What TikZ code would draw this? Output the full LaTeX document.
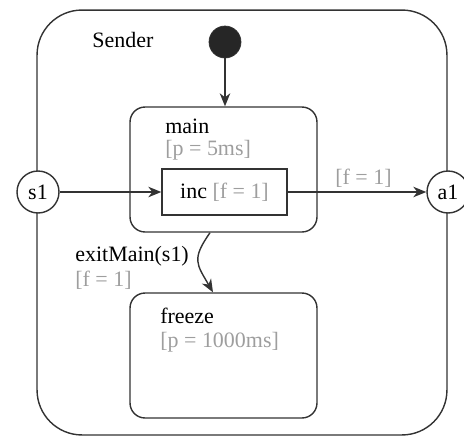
\documentclass[tikz,border=0pt]{standalone}
\usepackage{fontspec}
\setmainfont{Liberation Serif}
\usepackage{tikz}
\usetikzlibrary{arrows.meta}
\definecolor{guard}{gray}{0.62}
\definecolor{edge}{gray}{0.2}
\tikzstyle{state}=[draw=edge,line width=0.8pt,rounded corners=0.3cm,minimum width=3.74cm,minimum height=2.5cm]
\tikzstyle{port}=[draw=edge,line width=0.8pt,fill=white,circle,minimum size=0.84cm,inner sep=0pt,font=\fontsize{12.5}{14}\selectfont]
\tikzstyle{lbl}=[anchor=west,inner sep=0pt,font=\fontsize{12.5}{14}\selectfont]
\tikzstyle{trans}=[draw=edge,line width=0.8pt,-{Stealth[length=2.6mm,width=2.1mm,inset=0.8mm]}]

\begin{document}
\begin{tikzpicture}[x=0.02cm,y=-0.02cm]
        \useasboundingbox (0,0) rectangle (464,437);
        % outer state
        \node[draw=edge,line width=0.8pt,rounded corners=0.9cm,minimum width=8.2cm,minimum height=8.5cm] (sender) at (242,222.5) {};
        \node[lbl] (sendername) at (92,40) {Sender};
        \node[draw=edge,fill=black!85,circle,minimum size=0.64cm,inner sep=0pt] (init) at (225,42) {};
        % inner states
        \node[state] (main) at (223.5,169.5) {};
        \node[lbl] (mainname) at (165,126) {main};
        \node[lbl,text=guard] (mainguard) at (165,150) {[p = 5ms]};
        \node[draw=edge,line width=0.8pt,minimum width=2.5cm,minimum height=0.92cm,font=\fontsize{12.5}{14}\selectfont] (inc) at (224.5,192) {inc {\color{guard}[f = 1]}};
        \node[state] (freeze) at (223.5,355.5) {};
        \node[lbl] (freezename) at (160,316) {freeze};
        \node[lbl,text=guard] (freezeguard) at (160,342) {[p = 1000ms]};
        % ports
        \node[port] (s1) at (38,192) {s1};
        \node[port] (a1) at (448,192) {a1};
        % transitions
        \draw[trans] (init) -- (init |- main.north);
        \draw[trans] (s1) -- (inc);
        \draw[trans] (inc) -- (a1);
        \node[lbl,text=guard] (outguard) at (335,178) {[f = 1]};
        \draw[trans] ([xshift=-0.27cm]main.south) to[out=235,in=120,looseness=1.4] ([xshift=-0.21cm]freeze.north);
        \node[lbl] (exitname) at (75,256) {exitMain(s1)};
        \node[lbl,text=guard] (exitguard) at (75,280) {[f = 1]};
\end{tikzpicture}
\end{document}
